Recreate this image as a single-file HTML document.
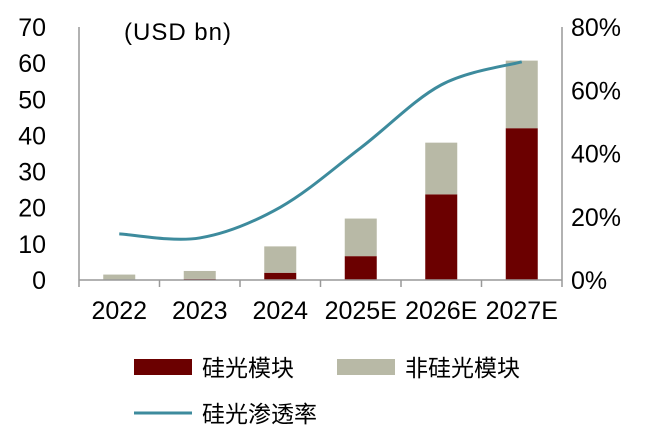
<!DOCTYPE html>
<html><head><meta charset="utf-8"><style>
body{margin:0;background:#fff;}
svg text{font-family:"Liberation Sans","Noto Sans CJK SC",sans-serif;fill:#000;}
</style></head><body>
<svg width="654" height="434" id="c">
<text x="124" y="40" font-size="24" textLength="107">(USD bn)</text>
<g id="g"></g>
<g>
<rect x="134" y="359" width="58" height="16" fill="#6b0000"/>
<text x="202" y="376" font-size="23">硅光模块</text>
<rect x="337" y="359" width="58" height="16" fill="#b8b9a6"/>
<text x="405" y="376" font-size="23">非硅光模块</text>
<line x1="134" y1="413" x2="192" y2="413" stroke="#3d8b9d" stroke-width="3"/>
<text x="202" y="422" font-size="23">硅光渗透率</text>
</g>
</svg>
<script>
const categories=["2022","2023","2024","2025E","2026E","2027E"];
const siliconValues=[0,0.3,2,6.6,23.7,42];
const nonSiliconValues=[1.5,2.2,7.3,10.4,14.3,18.7];
const rateValues=[14.6,13.3,23,41.8,61.7,69];
const leftTicks=[0,10,20,30,40,50,60,70];
const rightTicks=[0,20,40,60,80];
const NS="http://www.w3.org/2000/svg";
const g=document.getElementById('g');
const X0=79,X1=562,Y0=280,Y1=27;
const band=(X1-X0)/categories.length;
const xc=i=>X0+band*(i+0.5);
const yL=v=>Y0-(Y0-Y1)*v/70;
const yR=v=>Y0-(Y0-Y1)*v/80;
function mk(t,a){const e=document.createElementNS(NS,t);for(const k in a)e.setAttribute(k,a[k]);g.appendChild(e);return e;}
categories.forEach((c,i)=>{
 const s=siliconValues[i],n=nonSiliconValues[i];
 let r=mk('rect',{x:xc(i)-16,y:yL(s),width:32,height:Y0-yL(s),fill:'#6b0000'});
 
 
 r=mk('rect',{x:xc(i)-16,y:yL(s+n),width:32,height:yL(s)-yL(s+n),fill:'#b8b9a6'});
 
 
 const t=mk('text',{x:xc(i),y:319,'font-size':25,'text-anchor':'middle'});t.textContent=c;
 
 
});
let a=mk('line',{x1:X0,y1:Y1,x2:X0,y2:Y0,stroke:'#999','stroke-width':1.5});

a=mk('line',{x1:X1,y1:Y1,x2:X1,y2:Y0,stroke:'#999','stroke-width':1.5});

a=mk('line',{x1:X0,y1:Y0,x2:X1,y2:Y0,stroke:'#999','stroke-width':1.5});

for(let i=0;i<=categories.length;i++){const l=mk('line',{x1:X0+band*i,y1:Y0,x2:X0+band*i,y2:287,stroke:'#999','stroke-width':1.5});
 }
leftTicks.forEach(v=>{const t=mk('text',{x:46,y:yL(v)+9,'font-size':25,'text-anchor':'end'});t.textContent=v;
 });
rightTicks.forEach(v=>{const t=mk('text',{x:571,y:yR(v)+9,'font-size':25});t.textContent=v+'%';
 });
const pts=rateValues.map((v,i)=>[xc(i),yR(v)]);
let d='M'+pts[0][0]+','+pts[0][1];
for(let i=0;i<pts.length-1;i++){const p0=pts[Math.max(0,i-1)],p1=pts[i],p2=pts[i+1],p3=pts[Math.min(pts.length-1,i+2)];
 d+=' C'+(p1[0]+(p2[0]-p0[0])/6)+','+(p1[1]+(p2[1]-p0[1])/6)+' '+(p2[0]-(p3[0]-p1[0])/6)+','+(p2[1]-(p3[1]-p1[1])/6)+' '+p2[0]+','+p2[1];}
const ln=mk('path',{d:d,fill:'none',stroke:'#3d8b9d','stroke-width':3});


</script>
</body></html>
